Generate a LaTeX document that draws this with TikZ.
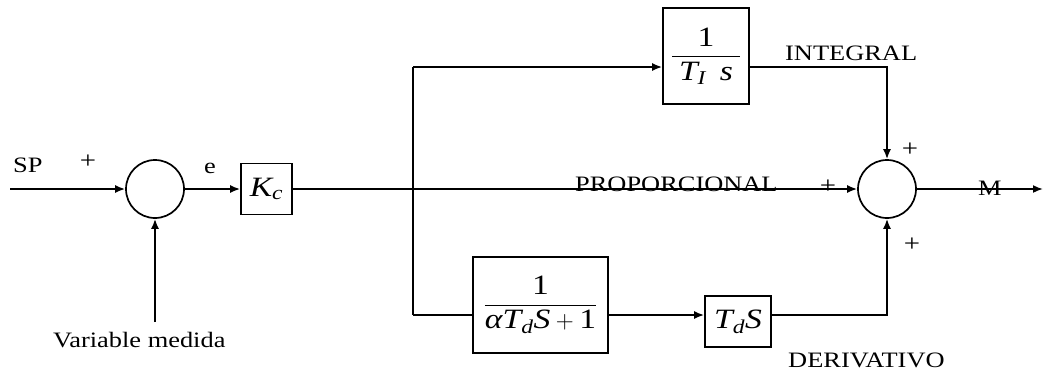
\documentclass[tikz,border=0pt]{standalone}
\usepackage{amsmath}
\usepackage{fontspec}
\setmainfont{Liberation Serif}[FakeStretch=1.2]
\usetikzlibrary{arrows.meta,calc}
\tikzset{
  lab/.style={inner sep=0pt,font=\fontsize{22}{26}\selectfont},
  blk/.style={draw,line width=1.7pt,inner sep=2pt,font=\fontsize{28}{32}\selectfont},
  sumc/.style={draw,circle,line width=1.7pt,minimum size=58pt,inner sep=0pt},
  wire/.style={line width=1.7pt},
  arr/.style={wire,-{Latex[length=10pt,width=8pt]}},
  pm/.style={inner sep=0pt,font=\fontsize{24}{26}\selectfont}
}
\begin{document}
\begin{tikzpicture}[x=1pt,y=-1pt]
\useasboundingbox (0,0) rectangle (1045,373);
% blocks
\node[sumc] (sum1) at (155,189) {};
\node[blk,minimum width=51pt,minimum height=51pt] (kc) at (266.5,189) {$\textit{K}_{\textit{c}}$};
\node[blk,minimum width=86pt,minimum height=96pt] (int) at (706,56)
  {$\dfrac{\textrm{1}}{\;\textit{T}_{\textit{I}}\;\;\textit{s}\;}$};
\node[blk,minimum width=135pt,minimum height=96pt] (filt) at (540.5,305)
  {$\dfrac{\textrm{1}}{\textit{α}\textit{T}_{\textit{d}}\textit{S}+\textrm{1}}$};
\node[blk,minimum width=66pt,minimum height=51pt] (td) at (738,321.5) {$\textit{T}_{\textit{d}}\textit{S}$};
\node[sumc] (sum2) at (887,189) {};
% coordinates
\coordinate (in) at (10,189);
\coordinate (mv) at (155,322);
\coordinate (br1) at (413,67);
\coordinate (br2) at (413,315);
\coordinate (out) at (1043,189);
% connectors
\draw[arr] (in) -- (sum1.west);
\draw[arr] (mv) -- (sum1.south);
\draw[arr] (sum1.east) -- (kc.west);
\draw[arr] (kc.east) -- (sum2.west);
\draw[wire] (br1) -- (br2);
\draw[arr] (br1) -- (br1 -| int.west);
\draw[arr] (br1 -| int.east) -| (sum2.north);
\draw[wire] (br2) -- (br2 -| filt.west);
\draw[arr] (br2 -| filt.east) -- (br2 -| td.west);
\draw[arr] (br2 -| td.east) -| (sum2.south);
\draw[arr] (sum2.east) -- (out);
% labels
\node[lab,anchor=base west] (lsp) at (13,172) {SP};
\node[pm] (p1) at (88,162) {+};
\node[lab,anchor=base] (le) at (210,173) {e};
\node[lab,anchor=base west] (lvm) at (53,347) {Variable medida};
\node[lab,anchor=base west] (lint) at (785,60) {INTEGRAL};
\node[lab,anchor=base west] (lprop) at (575,191) {PROPORCIONAL};
\node[lab,anchor=base west] (lder) at (788,367) {DERIVATIVO};
\node[lab,anchor=base west] (lm) at (978,195) {M};
\node[pm] (p2) at (910,150) {+};
\node[pm] (p3) at (828,187) {+};
\node[pm] (p4) at (912,245) {+};
\end{tikzpicture}
\end{document}
